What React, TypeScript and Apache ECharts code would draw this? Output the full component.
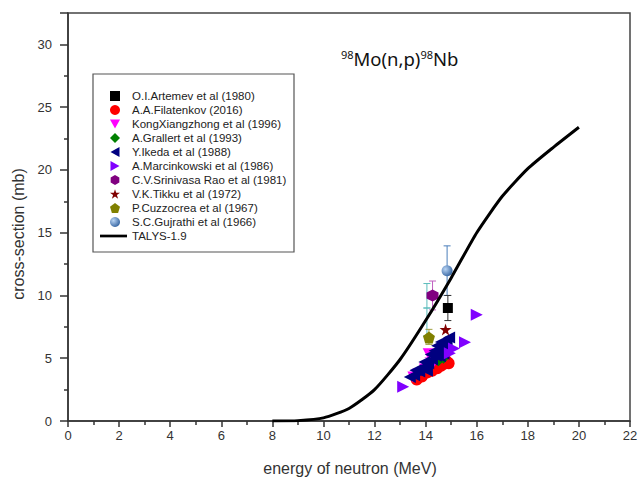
import React, { useEffect, useRef } from "react";
import * as echarts from "echarts";

// TALYS-1.9 curve
const talysX = [8, 9, 10, 11, 12, 13, 14, 15, 16, 17, 18, 19, 20];
const talysY = [0, 0.03, 0.25, 1.0, 2.5, 4.9, 8.0, 11.4, 15.0, 17.9, 20.1, 21.8, 23.4];

// experimental data [E, sigma]
const artemev = [[14.87, 9.0]];
const filatenkov = [[13.65, 3.3], [13.85, 3.55], [14.05, 3.85], [14.25, 4.0], [14.45, 4.2], [14.6, 4.4], [14.72, 4.55], [14.82, 4.75], [14.9, 4.6]];
const kong = [[13.5, 3.5], [13.7, 3.75], [13.95, 4.15], [14.15, 4.4], [14.35, 4.75], [14.55, 5.05], [14.75, 5.35], [14.1, 5.35]];
const grallert = [[14.5, 4.8], [14.7, 5.0]];
const ikeda = [[13.38, 3.5], [13.55, 3.65], [13.6, 4.05], [13.75, 3.95], [13.9, 4.3], [13.95, 4.7], [14.05, 4.0], [14.1, 4.6], [14.2, 5.3], [14.25, 4.9], [14.35, 5.6], [14.4, 5.2], [14.45, 6.0], [14.5, 5.5], [14.55, 5.15], [14.6, 6.3], [14.62, 5.8], [14.7, 5.35], [14.72, 6.1], [14.8, 5.9], [14.82, 6.4], [14.92, 6.65]];
const marcinkowski = [[13.12, 2.73], [14.95, 5.4], [15.11, 5.78], [15.54, 6.28], [16.0, 8.47]];
const srinivasa = [[14.27, 10.0]];
const tikku = [[14.78, 7.29]];
const cuzzocrea = [[14.13, 6.66]];
const gujrathi = [[14.84, 11.96]];

// error bars [E, low, high]
const errGujrathi = [[14.84, 10.0, 13.95]];
const errArtemev = [[14.87, 8.0, 10.0]];
const errSrinivasa = [[14.27, 8.85, 11.15]];
const errCyan = [[14.05, 9.0, 10.95], [14.05, 6.8, 9.0]];
const errCuzzocrea = [[14.13, 6.1, 7.3]];
const errKong = [[13.7, 3.45, 4.05], [14.15, 4.1, 4.7], [14.55, 4.75, 5.35], [14.1, 5.05, 5.65], [14.35, 4.45, 5.05]];

const xTicksMin = 0;
const xTicksMax = 22;
const yTicksMin = 0;
const yTicksMax = 32.5;

const names = [
  "O.I.Artemev et al (1980)",
  "A.A.Filatenkov (2016)",
  "KongXiangzhong et al (1996)",
  "A.Grallert et al (1993)",
  "Y.Ikeda et al (1988)",
  "A.Marcinkowski et al (1986)",
  "C.V.Srinivasa Rao et al (1981)",
  "V.K.Tikku et al (1972)",
  "P.Cuzzocrea et al (1967)",
  "S.C.Gujrathi et al (1966)",
  "TALYS-1.9",
];

const SQUARE = "path://M0,0 L10,0 L10,10 L0,10 Z";
const DIAMOND = "path://M5,0 L10,5 L5,10 L0,5 Z";
const DOWN_TRI = "path://M0,0 L10,0 L5,9 Z";
const LEFT_TRI = "path://M10,0 L10,10 L1,5 Z";
const RIGHT_TRI = "path://M0,0 L0,10 L9,5 Z";
const HEXAGON = "path://M5,0 L9.33,2.5 L9.33,7.5 L5,10 L0.67,7.5 L0.67,2.5 Z";
const PENTAGON = "path://M5,0 L10,3.8 L8.1,10 L1.9,10 L0,3.8 Z";
const STAR = "path://M5,0 L6.18,3.62 L10,3.62 L6.91,5.86 L8.09,9.5 L5,7.26 L1.91,9.5 L3.09,5.86 L0,3.62 L3.82,3.62 Z";
const BAR = "path://M0,0 L30,0 L30,3 L0,3 Z";

function errSeries(data: number[][], color: string) {
  return {
    type: "custom",
    data,
    z: 2,
    silent: true,
    itemStyle: { color },
    renderItem: (params: any, api: any) => {
      const x = api.value(0);
      const lo = api.coord([x, api.value(1)]);
      const hi = api.coord([x, api.value(2)]);
      const w = 3.5;
      const st = { stroke: color, lineWidth: 1 };
      return {
        type: "group",
        children: [
          { type: "line", shape: { x1: lo[0], y1: lo[1], x2: hi[0], y2: hi[1] }, style: st },
          { type: "line", shape: { x1: lo[0] - w, y1: lo[1], x2: lo[0] + w, y2: lo[1] }, style: st },
          { type: "line", shape: { x1: hi[0] - w, y1: hi[1], x2: hi[0] + w, y2: hi[1] }, style: st },
        ],
      };
    },
  };
}

function scatter(name: string, data: number[][], symbol: string, size: number, color: any) {
  return {
    type: "scatter",
    name,
    data,
    symbol,
    symbolSize: size,
    z: 3,
    itemStyle: { color, opacity: 1 },
  };
}

export default function App() {
  const ref = useRef<HTMLDivElement>(null);
  useEffect(() => {
    if (!ref.current) return;
    const chart = echarts.init(ref.current, null, { renderer: "svg" });
    const sphere = new echarts.graphic.RadialGradient(0.35, 0.35, 0.75, [
      { offset: 0, color: "#b8d4f4" },
      { offset: 1, color: "#2c5d9c" },
    ]);
    const axisFont = { fontFamily: "Liberation Sans", fontSize: 13, color: "#333" };
    const legendText = { fontFamily: "Liberation Sans", fontSize: 11.5, color: "#222", lineHeight: 14 };
    const symbols = [SQUARE, "circle", DOWN_TRI, DIAMOND, LEFT_TRI, RIGHT_TRI, HEXAGON, STAR, PENTAGON, "circle"];
    chart.setOption({
      animation: false,
      backgroundColor: "#fff",
      grid: {
        left: 68,
        right: 11,
        top: 13,
        bottom: 62,
        show: true,
        borderColor: "#444",
        borderWidth: 1.5,
        backgroundColor: "transparent",
      },
      xAxis: {
        type: "value",
        min: xTicksMin,
        max: xTicksMax,
        interval: 2,
        minorTick: { show: true, splitNumber: 2, length: 4, lineStyle: { color: "#333", width: 1.5 } },
        axisLine: { show: true, lineStyle: { color: "#333", width: 1.5 } },
        axisTick: { show: true, length: 6, lineStyle: { color: "#333", width: 1.5 } },
        axisLabel: { ...axisFont, margin: 8 },
        splitLine: { show: false },
      },
      yAxis: {
        type: "value",
        min: yTicksMin,
        max: yTicksMax,
        interval: 5,
        minorTick: { show: true, splitNumber: 2, length: 4, lineStyle: { color: "#333", width: 1.5 } },
        axisLine: { show: true, lineStyle: { color: "#333", width: 1.5 } },
        axisTick: { show: true, length: 8, lineStyle: { color: "#333", width: 1.5 } },
        axisLabel: { ...axisFont, margin: 16, showMaxLabel: false },
        splitLine: { show: false },
      },
      legend: [
        {
          left: 110,
          top: 89,
          orient: "vertical",
          padding: 0,
          itemGap: 0,
          itemWidth: 10,
          itemHeight: 10,
          data: names.slice(0, 10).map((n, i) => ({ name: n, icon: symbols[i] })),
          textStyle: { ...legendText, padding: [0, 0, 0, 7] },
          selectedMode: false,
        },
        {
          left: 100,
          top: 89 + 140,
          orient: "vertical",
          padding: 0,
          itemGap: 0,
          itemWidth: 27,
          itemHeight: 3,
          data: [{ name: names[10], icon: BAR }],
          textStyle: legendText,
          selectedMode: false,
        },
      ],
      graphic: [
        {
          type: "rect",
          shape: { x: 93, y: 74, width: 201, height: 178 },
          style: { fill: "none", stroke: "#555", lineWidth: 1.2 },
          z: 1,
        },
        {
          type: "text",
          left: 341,
          top: 49,
          style: {
            text: "{sup|98}{m|Mo(n,p)}{sup|98}{m|Nb}",
            rich: {
              sup: { fontSize: 11, fontFamily: "Noto Sans", fill: "#111", verticalAlign: "top" },
              m: { fontSize: 18.5, fontFamily: "Noto Sans", fill: "#111" },
            },
          },
        },
        {
          type: "text",
          x: 18,
          y: 234,
          rotation: Math.PI / 2,
          style: {
            text: "cross-section (mb)",
            fontFamily: "Liberation Sans",
            fontSize: 16,
            fill: "#333",
            align: "center",
            verticalAlign: "middle",
          },
        },
        {
          type: "text",
          x: 350,
          y: 468,
          style: {
            text: "energy of neutron (MeV)",
            fontFamily: "Liberation Sans",
            fontSize: 16,
            fill: "#333",
            align: "center",
            verticalAlign: "middle",
          },
        },
      ],
      series: [
        errSeries(errGujrathi, "#4a7ebb"),
        errSeries(errArtemev, "#333333"),
        errSeries(errSrinivasa, "#c060c0"),
        errSeries(errCyan, "#5cbcbc"),
        errSeries(errCuzzocrea, "#a0a040"),
        scatter(names[0], artemev, SQUARE, 10, "#000000"),
        scatter(names[1], filatenkov, "circle", 12, "#ff0000"),
        scatter(names[2], kong, DOWN_TRI, 11, "#ff00ff"),
        scatter(names[3], grallert, DIAMOND, 11, "#008000"),
        scatter(names[4], ikeda, LEFT_TRI, 12, "#000080"),
        errSeries(errKong, "#ff60ff"),
        scatter(names[5], marcinkowski, RIGHT_TRI, 12, "#8000ff"),
        scatter(names[6], srinivasa, HEXAGON, 12, "#800080"),
        scatter(names[7], tikku, STAR, 12, "#800000"),
        scatter(names[8], cuzzocrea, PENTAGON, 12, "#808000"),
        scatter(names[9], gujrathi, "circle", 11, sphere),
        {
          type: "line",
          name: names[10],
          data: talysX.map((x, i) => [x, talysY[i]]),
          symbol: "none",
          smooth: 0.2,
          z: 4,
          lineStyle: { color: "#000", width: 3 },
          itemStyle: { color: "#000" },
        },
      ],
    });
    return () => chart.dispose();
  }, []);
  return <div ref={ref} style={{ width: 641, height: 483, position: "absolute", left: 0, top: 0 }} />;
}
